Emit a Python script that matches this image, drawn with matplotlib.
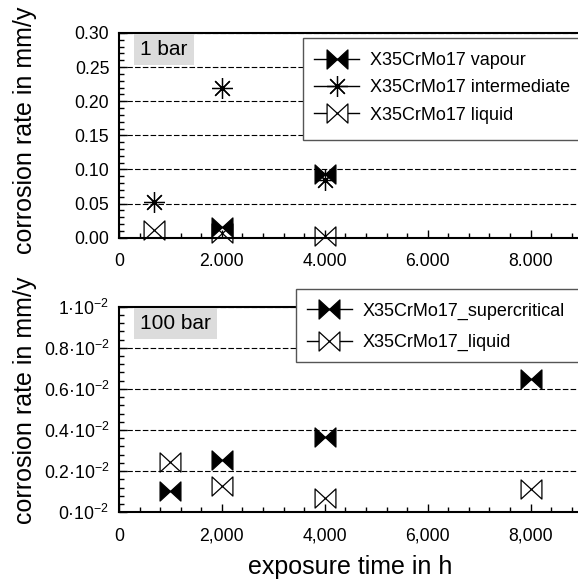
import numpy as np
import matplotlib
matplotlib.use("Agg")
import matplotlib.pyplot as plt
import matplotlib.ticker as ticker
from matplotlib.path import Path
from matplotlib.lines import Line2D
from matplotlib.patches import Rectangle

plt.rcParams["font.family"] = ["Liberation Sans", "DejaVu Sans"]
plt.rcParams["mathtext.fontset"] = "custom"
plt.rcParams["mathtext.rm"] = "Liberation Sans"
plt.rcParams["mathtext.it"] = "Liberation Sans:italic"

# 1 bar data
t_1bar_vapour = [2000, 4000]
r_1bar_vapour = [0.016, 0.094]
t_1bar_inter = [680, 2000, 4000]
r_1bar_inter = [0.052, 0.220, 0.085]
t_1bar_liquid = [680, 2000, 4000]
r_1bar_liquid = [0.012, 0.007, 0.003]

# 100 bar data (values in mm/y)
t_100bar_super = [1000, 2000, 4000, 8000]
r_100bar_super = [0.00105, 0.00254, 0.00365, 0.00648]
t_100bar_liquid = [1000, 2000, 4000, 8000]
r_100bar_liquid = [0.00246, 0.00129, 0.00068, 0.00112]

x_ticks = [0, 2000, 4000, 6000, 8000]
top_xlabels = ["0", "2.000", "4.000", "6.000", "8.000"]
bot_xlabels = ["0", "2,000", "4,000", "6,000", "8,000"]
top_yticks = [0.0, 0.05, 0.10, 0.15, 0.20, 0.25, 0.30]
bot_yticks = [0.0, 0.002, 0.004, 0.006, 0.008, 0.010]
bot_ylabels = ["0\u00b710$^{-2}$", "0.2\u00b710$^{-2}$", "0.4\u00b710$^{-2}$",
               "0.6\u00b710$^{-2}$", "0.8\u00b710$^{-2}$", "1\u00b710$^{-2}$"]

bowtie = Path([(-1, -0.92), (-1, 0.92), (1, -0.92), (1, 0.92), (-1, -0.92)],
              [Path.MOVETO, Path.LINETO, Path.LINETO, Path.LINETO, Path.CLOSEPOLY])
star8 = (8, 2, 0)

ms = 15
mew = 0.9
filled = dict(marker=bowtie, markersize=ms, markerfacecolor="black", markeredgecolor="black",
              markeredgewidth=mew, color="black")
opened = dict(marker=bowtie, markersize=ms, markerfacecolor="white", markeredgecolor="black",
              markeredgewidth=mew, color="black")
starred = dict(marker=star8, markersize=ms, markeredgecolor="black", markeredgewidth=mew, color="black")

W, H = 578, 583
fig = plt.figure(figsize=(W / 100, H / 100), dpi=100)
left = 119 / W
width = 1 - left
ax1 = fig.add_axes([left, 0.5923, width, 0.3511])
ax2 = fig.add_axes([left, 0.1213, width, 0.3527])

xmax = 8920


def style_axes(ax, ylim, yticks, xlabels):
    ax.set_xlim(0, xmax)
    ax.set_ylim(*ylim)
    ax.set_xticks(x_ticks)
    ax.set_xticklabels(xlabels)
    ax.set_yticks(yticks)
    ax.xaxis.set_minor_locator(ticker.AutoMinorLocator(5))
    ax.yaxis.set_minor_locator(ticker.AutoMinorLocator(5))
    ax.tick_params(which="both", direction="in", labelsize=12.7, width=1.0)
    ax.tick_params(which="major", length=6)
    ax.tick_params(which="minor", length=3.5)
    ax.tick_params(axis="x", pad=11)
    ax.tick_params(axis="y", pad=7)
    ax.spines["right"].set_visible(False)
    for s in ["left", "bottom", "top"]:
        ax.spines[s].set_linewidth(1.5)
    ax.grid(axis="y", which="major", color="black", linestyle=(0, (5, 2)), linewidth=0.8)
    ax.set_axisbelow(True)


def legend_frame(x0, y0, y1):
    # frame runs off the right edge of the figure, as in the original
    fig.patches.append(Rectangle((x0 / W, 1 - y1 / H), 1.1 - x0 / W, (y1 - y0) / H,
                                 transform=fig.transFigure, facecolor="white",
                                 edgecolor="#555555", linewidth=1.0, zorder=1))


# top panel: 1 bar
style_axes(ax1, (0, 0.30), top_yticks, top_xlabels)
ax1.yaxis.set_major_formatter(ticker.FormatStrFormatter("%.2f"))
ax1.plot(t_1bar_liquid, r_1bar_liquid, linestyle="none", **opened, clip_on=False)
ax1.plot(t_1bar_inter, r_1bar_inter, linestyle="none", **starred, clip_on=False)
ax1.plot(t_1bar_vapour, r_1bar_vapour, linestyle="none", **filled, clip_on=False)
ax1.text(0.046, 0.965, "1 bar", transform=ax1.transAxes, fontsize=15, ha="left", va="top",
         bbox=dict(boxstyle="square,pad=0.3", facecolor="#dcdcdc", edgecolor="none"))

legend_frame(303, 38, 140)
h1 = [Line2D([], [], linewidth=1, **filled),
      Line2D([], [], linewidth=1, **starred),
      Line2D([], [], linewidth=1, **opened)]
fig.legend(h1, ["X35CrMo17 vapour", "X35CrMo17 intermediate", "X35CrMo17 liquid"],
           loc="upper left", bbox_to_anchor=(300 / W, 1 - 38 / H), fontsize=13,
           frameon=False, handlelength=2.5, handletextpad=0.6, labelspacing=0.57,
           borderpad=0.78, borderaxespad=0)

# bottom panel: 100 bar
style_axes(ax2, (0, 0.010), bot_yticks, bot_xlabels)
ax2.set_yticklabels(bot_ylabels)
ax2.plot(t_100bar_liquid, r_100bar_liquid, linestyle="none", **opened, clip_on=False)
ax2.plot(t_100bar_super, r_100bar_super, linestyle="none", **filled, clip_on=False)
ax2.text(0.046, 0.965, "100 bar", transform=ax2.transAxes, fontsize=15, ha="left", va="top",
         bbox=dict(boxstyle="square,pad=0.3", facecolor="#dcdcdc", edgecolor="none"))

legend_frame(296, 289, 362)
h2 = [Line2D([], [], linewidth=1, **filled),
      Line2D([], [], linewidth=1, **opened)]
fig.legend(h2, ["X35CrMo17_supercritical", "X35CrMo17_liquid"],
           loc="upper left", bbox_to_anchor=(293 / W, 1 - 289 / H), fontsize=13,
           frameon=False, handlelength=2.5, handletextpad=0.6, labelspacing=0.8,
           borderpad=0.75, borderaxespad=0)

fig.text(25 / W, 1 - 130 / H, "corrosion rate in mm/y", rotation=90, fontsize=18,
         ha="center", va="center")
fig.text(25 / W, 1 - 400 / H, "corrosion rate in mm/y", rotation=90, fontsize=18,
         ha="center", va="center")
fig.text(350 / W, 1 - 567 / H, "exposure time in h", fontsize=18, ha="center", va="center")

fig.savefig("out.png", dpi=100)
